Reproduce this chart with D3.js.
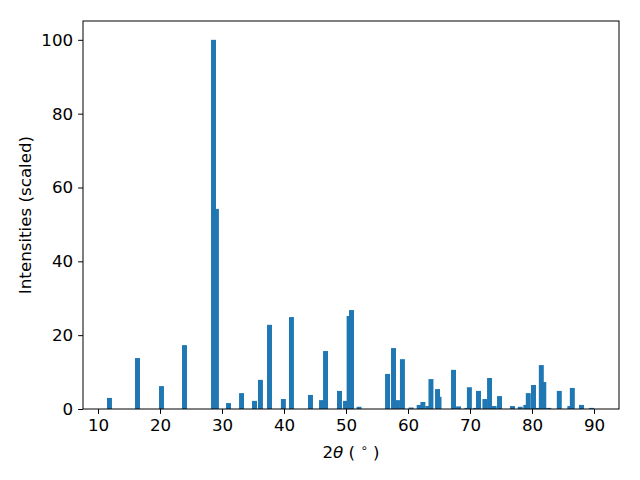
<!DOCTYPE html>
<meta charset="utf-8">
<style>
  body { margin: 0; background: white; }
  text { font-family: "DejaVu Sans", sans-serif; }
</style>
<body>
<script src="https://d3js.org/d3.v7.min.js"></script>
<script>
// peak positions (2theta, degrees) and scaled intensities
var angles = [11.85, 16.37, 20.24, 23.95, 28.63, 29.1, 31.05, 33.15, 35.24, 36.2,
              37.66, 39.9, 41.2, 44.27, 46.05, 46.7, 48.95, 49.92, 50.5, 50.89,
              52.1, 56.7, 57.66, 58.3, 59.1, 60.5, 61.8, 62.4, 63.2, 63.7,
              64.76, 65.0, 67.34, 68.15, 69.5, 69.9, 70.9, 71.37, 72.4, 73.15,
              73.9, 74.76, 76.85, 78.1, 79.0, 79.4, 80.24, 81.0, 81.5, 81.9,
              82.7, 84.4, 86.1, 86.5, 87.98, 89.6];
var intensities = [3.0, 13.8, 6.2, 17.3, 100, 54.2, 1.6, 4.3, 2.2, 7.9,
                   22.8, 2.7, 24.9, 3.8, 2.4, 15.7, 4.9, 2.2, 25.2, 26.8,
                   0.6, 9.5, 16.5, 2.4, 13.5, 0.4, 1.1, 1.9, 0.8, 8.1,
                   5.4, 3.3, 10.6, 0.7, 0.3, 5.9, 0.3, 4.9, 2.7, 8.4,
                   0.8, 3.5, 0.8, 0.6, 1.1, 4.3, 6.5, 0.3, 11.9, 7.3,
                   0.3, 4.9, 0.8, 5.7, 1.1, 0.3];
var xTicks = [10, 20, 30, 40, 50, 60, 70, 80, 90];
var yTicks = [0, 20, 40, 60, 80, 100];

var width = 640, height = 480;
var plotL = 83, plotR = 619, plotT = 21, plotB = 409;
var barWidth = 0.8;

var svg = d3.select("body").append("svg")
            .attr("width", width)
            .attr("height", height);

var x = d3.scaleLinear().domain([7.58, 94.03]).range([plotL, plotR]);
var y = d3.scaleLinear().domain([0, 105.1]).range([plotB, plotT]);

var peaks = angles.map(function(a, i) { return {a: a, v: intensities[i]}; });

svg.selectAll("rect.bar")
   .data(peaks)
   .enter()
   .append("rect")
   .attr("class", "bar")
   .attr("x", function(d) { return x(d.a - barWidth / 2); })
   .attr("width", function(d) { return x(d.a + barWidth / 2) - x(d.a - barWidth / 2); })
   .attr("y", function(d) { return y(d.v); })
   .attr("height", function(d) { return y(0) - y(d.v); })
   .attr("fill", "#1f77b4");

var xAxis = svg.append("g")
   .attr("transform", "translate(0," + plotB + ")")
   .call(d3.axisBottom(x).tickValues(xTicks).tickSize(4.9).tickPadding(4.9));
var yAxis = svg.append("g")
   .attr("transform", "translate(" + plotL + ",0)")
   .call(d3.axisLeft(y).tickValues(yTicks).tickSize(4.9).tickPadding(4.9));

[xAxis, yAxis].forEach(function(g) {
  g.select(".domain").remove();
  g.selectAll("text").attr("font-size", 16.7).attr("fill", "black")
   .attr("font-family", "DejaVu Sans");
  g.selectAll("line").attr("stroke", "black").attr("stroke-width", 1);
});

// frame
svg.append("rect")
   .attr("x", plotL).attr("y", plotT)
   .attr("width", plotR - plotL).attr("height", plotB - plotT)
   .attr("fill", "none").attr("stroke", "black").attr("stroke-width", 1);

var xl = svg.append("text")
   .attr("x", (plotL + plotR) / 2).attr("y", 458)
   .attr("text-anchor", "middle").attr("font-size", 16.7)
   .attr("xml:space", "preserve");
xl.append("tspan").text("2");
xl.append("tspan").attr("font-style", "italic").text("θ");
xl.append("tspan").text(" ( ");
xl.append("tspan").attr("font-size", 11.7).attr("dy", -6).text("∘");
xl.append("tspan").attr("dy", 6).text(" )");

svg.append("text")
   .attr("transform", "translate(31," + (plotT + plotB) / 2 + ") rotate(-90)")
   .attr("text-anchor", "middle").attr("font-size", 16.7)
   .text("Intensities (scaled)");
</script>
</body>
